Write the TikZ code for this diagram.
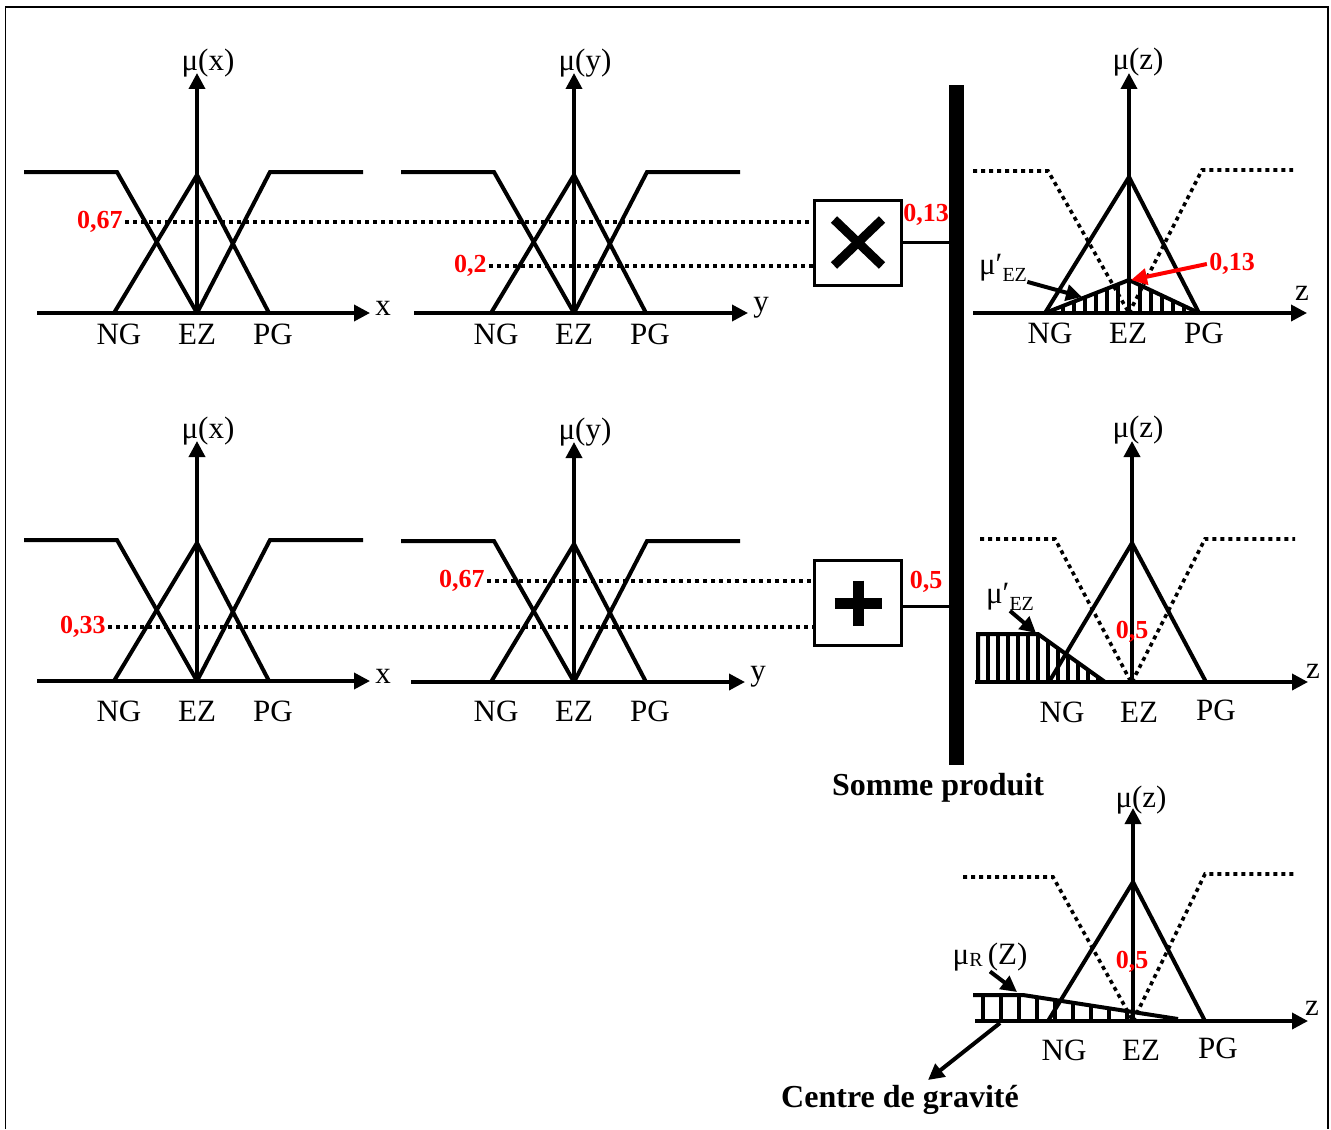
\documentclass[tikz,border=0pt]{standalone}
\usepackage{fontspec}
\setmainfont{Liberation Serif}
\usetikzlibrary{arrows.meta, positioning}

\begin{document}
\begin{tikzpicture}[x=0.5pt, y=-0.5pt,
        axe/.style={line width=1.8pt, -{Triangle[length=8pt, width=8pt]}},
        fonction/.style={line width=2pt, line join=miter},
        pointille/.style={line width=1.8pt, dash pattern=on 2pt off 2pt},
        hachure/.style={line width=1.6pt},
        etiq/.style={font=\fontsize{15.5}{17}\selectfont, inner sep=0pt},
        valeur/.style={font=\bfseries\fontsize{13}{15}\selectfont, text=red, inner sep=1pt},
        titre/.style={font=\bfseries\fontsize{16}{18}\selectfont, inner sep=0pt},
        operateur/.style={draw, line width=1.5pt, minimum width=43.5pt, minimum height=42.5pt, inner sep=0pt},
        fleche/.style={line width=2pt, -{Triangle[length=8pt, width=8pt]}}
    ]
        \useasboundingbox (0,0) rectangle (1331,1129);
        % Cadre
        \draw[line width=0.8pt] (5.5,1129) -- (5.5,7) -- (1328,7) -- (1328,1129);

        % Entrees x et y (deux regles)
        \foreach \ox/\oy/\xa/\xb/\nom/\k/\dy in {197/313/37/370/x/1/21, 574/313/414/748/y/2/21, 197/681/37/370/x/3/30, 574/682/411/745/y/4/29}{
            \draw[fonction] (\ox-173,\oy-141) -- (\ox-80,\oy-141) -- (\ox,\oy);
            \draw[fonction] (\ox-83,\oy) -- (\ox,\oy-138) -- (\ox+72,\oy);
            \draw[fonction] (\ox,\oy) -- (\ox+73,\oy-141) -- (\ox+166,\oy-141);
            \draw[axe] (\xa,\oy) -- (\xb,\oy);
            \draw[axe] (\ox,\oy) -- (\ox,\oy-240);
            \node[etiq] (mu\k) at (\ox+11,\oy-250) {μ(\nom)};
            \node[etiq] (var\k) at (\xb+13,\oy-5) {\nom};
            \node[etiq] (ng\k) at (\ox-78,\oy+\dy) {NG};
            \node[etiq] (ez\k) at (\ox,\oy+\dy) {EZ};
            \node[etiq] (pg\k) at (\ox+76,\oy+\dy) {PG};
        }

        % Operateurs et barre de somme
        \node[operateur] (prod) at (858,242.5) {};
        \draw[line width=4.5pt] (prod.center) ++(-24,-23) -- ++(48,46);
        \draw[line width=4.5pt] (prod.center) ++(24,-23) -- ++(-48,46);
        \node[operateur] (somme) at (858,603) {};
        \draw[line width=5.5pt] (somme.center) ++(-23.5,0) -- ++(47,0);
        \draw[line width=5.5pt] (somme.center) ++(0,-22.5) -- ++(0,45);
        \node[fill=black, minimum width=7.5pt, minimum height=340pt, inner sep=0pt] (barre) at (956.5,425) {};
        \node[titre] (sp) at (938,788) {Somme produit};

        % Degres d'appartenance
        \node[valeur, anchor=east] (v67a) at (125,222) {0,67};
        \node[valeur, anchor=east] (v02) at (489,266) {0,2};
        \node[valeur, anchor=east] (v33) at (108,627) {0,33};
        \node[valeur, anchor=east] (v67b) at (487,581) {0,67};
        \draw[pointille] (v67a.east) -- (v67a.east -| prod.west);
        \draw[pointille] (v02.east) -- (v02.east -| prod.west);
        \draw[pointille] (v33.east) -- (v33.east -| somme.west);
        \draw[pointille] (v67b.east) -- (v67b.east -| somme.west);
        \draw[line width=1.5pt] (prod.east) -- (prod.east -| barre.west);
        \draw[line width=1.5pt] (somme.east) ++(0,3) -- (barre.west |- 0,606);
        \node[valeur] (v13a) at (926,215) {0,13};
        \node[valeur] (v05a) at (926,582) {0,5};

        % Sortie z : regle 1
        \foreach \hx in {1052,1063,...,1195}{
            \pgfmathsetmacro\hy{\hx<1129 ? 313-33*(\hx-1045)/84 : 313-33*(1199-\hx)/70}
            \draw[hachure] (\hx,313) -- (\hx,\hy);
        }
        \draw[fonction] (1045,313) -- (1129,280) -- (1199,313);
        \draw[pointille] (973,171) -- (1048,171) -- (1129,313);
        \draw[pointille] (1129,313) -- (1202,170) -- (1293,170);
        \draw[fonction] (1045,313) -- (1129,177) -- (1199,313);
        \draw[axe] (973,313) -- (1307,313);
        \draw[axe] (1129,313) -- (1129,73);
        \node[etiq] (mu5) at (1138,62) {μ(z)};
        \node[etiq] (var5) at (1302,293) {z};
        \node[etiq] (ng5) at (1050,333) {NG};
        \node[etiq] (ez5) at (1128,333) {EZ};
        \node[etiq] (pg5) at (1204,333) {PG};
        \node[etiq] (mueza) at (1003,268) {μ′\raisebox{-0.45ex}{\fontsize{10}{12}\selectfont EZ}};
        \coordinate (ciblea) at (1082,297);
        \draw[fleche] (mueza.south east) -- (ciblea);
        \node[valeur] (v13b) at (1232,264) {0,13};
        \coordinate (sommet) at (1131,280);
        \draw[fleche, red] (v13b.west) -- (sommet);

        % Sortie z : regle 2
        \foreach \hx in {988,998,...,1098}{
            \pgfmathsetmacro\hy{\hx<1038 ? 634 : 634+48*(\hx-1038)/67}
            \draw[hachure] (\hx,682) -- (\hx,\hy);
        }
        \draw[fonction] (978,682) -- (978,634) -- (1038,634) -- (1105,682);
        \draw[pointille] (980,539) -- (1055,539) -- (1131,682);
        \draw[pointille] (1132,682) -- (1205,539) -- (1295,539);
        \draw[fonction] (1049,682) -- (1132,543) -- (1206,682);
        \draw[axe] (975,682) -- (1308,682);
        \draw[axe] (1132,682) -- (1132,441);
        \node[etiq] (mu6) at (1138,430) {μ(z)};
        \node[etiq] (var6) at (1313,671) {z};
        \node[etiq] (ng6) at (1062,712) {NG};
        \node[etiq] (ez6) at (1139,712) {EZ};
        \node[etiq] (pg6) at (1216,710) {PG};
        \node[etiq] (muezb) at (1010,597) {μ′\raisebox{-0.45ex}{\fontsize{10}{12}\selectfont EZ}};
        \coordinate (cibleb) at (1036,633);
        \draw[fleche] (muezb.south) -- (cibleb);
        \node[valeur] (v05b) at (1132,632) {0,5};

        % Resultat : centre de gravite
        \foreach \hx in {983,1001,...,1127}{
            \pgfmathsetmacro\hy{\hx<1023 ? 995 : 995+24*(\hx-1023)/155}
            \draw[hachure] (\hx,1021) -- (\hx,\hy);
        }
        \draw[fonction] (973,995) -- (1023,995) -- (1178,1019);
        \draw[pointille] (963,877) -- (1053,877) -- (1133,1021);
        \draw[pointille] (1133,1021) -- (1205,874) -- (1297,874);
        \draw[fonction] (1048,1021) -- (1133,882) -- (1205,1021);
        \draw[axe] (975,1021) -- (1308,1021);
        \draw[axe] (1133,1021) -- (1133,808);
        \node[etiq] (mu7) at (1141,800) {μ(z)};
        \node[etiq] (var7) at (1312,1008) {z};
        \node[etiq] (ng7) at (1064,1050) {NG};
        \node[etiq] (ez7) at (1141,1050) {EZ};
        \node[etiq] (pg7) at (1218,1048) {PG};
        \node[etiq] (mur) at (990,957) {μ\raisebox{-0.15ex}{\fontsize{10}{12}\selectfont R}\,(Z)};
        \coordinate (ciblec) at (1017,992);
        \draw[fleche] (mur.south) -- (ciblec);
        \node[valeur] (v05c) at (1132,962) {0,5};
        \coordinate (pointg) at (1000,1023);
        \coordinate (pointe) at (928,1080);
        \draw[fleche] (pointg) -- (pointe);
        \node[titre] (cdg) at (900,1100) {Centre de gravité};
    \end{tikzpicture}
\end{document}
